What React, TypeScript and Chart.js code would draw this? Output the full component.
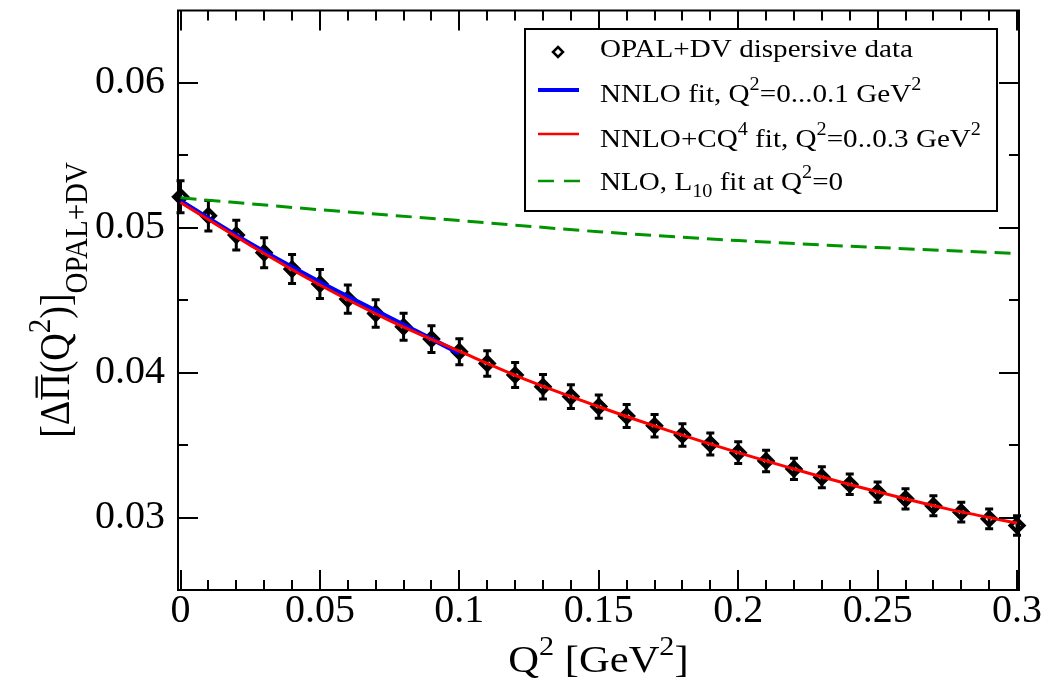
import React, { useEffect, useRef } from "react";
import { Chart, registerables } from "chart.js";

Chart.register(...registerables);

// ---------- data ----------
const q2 = [
  0, 0.01, 0.02, 0.03, 0.04, 0.05, 0.06, 0.07, 0.08, 0.09, 0.1, 0.11, 0.12, 0.13, 0.14, 0.15,
  0.16, 0.17, 0.18, 0.19, 0.2, 0.21, 0.22, 0.23, 0.24, 0.25, 0.26, 0.27, 0.28, 0.29, 0.3,
];
const dataValues = [
  0.05214, 0.05083, 0.0495, 0.04828, 0.04715, 0.04612, 0.04508, 0.04409, 0.04317, 0.04232,
  0.04145, 0.04064, 0.03984, 0.03903, 0.03835, 0.03766, 0.03701, 0.03634, 0.0357, 0.03508,
  0.03448, 0.03391, 0.03336, 0.03278, 0.0323, 0.03175, 0.03129, 0.03081, 0.03037, 0.02991,
  0.02945,
];
const dataErrors = [
  0.0011, 0.00105, 0.00103, 0.00103, 0.001, 0.001, 0.00097, 0.00095, 0.00093, 0.00092,
  0.0009, 0.00088, 0.00086, 0.00084, 0.00082, 0.0008, 0.00079, 0.00078, 0.00077, 0.00076,
  0.00075, 0.00074, 0.00073, 0.00072, 0.00071, 0.0007, 0.0007, 0.00069, 0.00068, 0.00068,
  0.00067,
];
const nnloX = [0, 0.025, 0.05, 0.075, 0.1];
const nnloY = [0.05185, 0.0489, 0.04625, 0.0438, 0.04135];
const cq4X = [0, 0.025, 0.05, 0.075, 0.1, 0.125, 0.15, 0.175, 0.2, 0.225, 0.25, 0.275, 0.3];
const cq4Y = [
  0.05175, 0.0488, 0.04605, 0.0436, 0.04148, 0.03943, 0.03765, 0.036, 0.03448, 0.03308,
  0.03178, 0.0306, 0.02962,
];
const nloX = [0, 0.05, 0.1, 0.15, 0.2, 0.25, 0.3];
const nloY = [0.05207, 0.05125, 0.0505, 0.04973, 0.04912, 0.04864, 0.04823];

const xTickValues = [0, 0.05, 0.1, 0.15, 0.2, 0.25, 0.3];
const xTickLabels = ["0", "0.05", "0.1", "0.15", "0.2", "0.25", "0.3"];
const yTickValues = [0.03, 0.04, 0.05, 0.06];
const yTickLabels = ["0.03", "0.04", "0.05", "0.06"];

const legendLabels = [
  "OPAL+DV dispersive data",
  "NNLO fit, Q²=0...0.1 GeV²",
  "NNLO+CQ⁴ fit, Q²=0..0.3 GeV²",
  "NLO, L₁₀ fit at Q²=0",
];

const FONT = '"Liberation Serif", "Times New Roman", Times, serif';
const POINTS_INDEX = 3;
const STRETCH = 1.12;

type Seg = { t: string; m?: "sup" | "sub"; bar?: boolean };

function segWidth(ctx: CanvasRenderingContext2D, s: Seg, size: number, subSize: number) {
  ctx.font = `${s.m ? subSize : size}px ${FONT}`;
  return ctx.measureText(s.t).width;
}

function drawRich(
  ctx: CanvasRenderingContext2D,
  segs: Seg[],
  size: number,
  subSize: number,
  supRaise: number,
  subDrop: number
) {
  let cx = 0;
  ctx.textAlign = "left";
  ctx.textBaseline = "alphabetic";
  for (const s of segs) {
    const w = segWidth(ctx, s, size, subSize);
    const dy = s.m === "sup" ? -supRaise : s.m === "sub" ? subDrop : 0;
    ctx.fillText(s.t, cx, dy);
    if (s.bar) {
      ctx.save();
      ctx.lineWidth = 2;
      ctx.beginPath();
      ctx.moveTo(cx + 3, -size * 0.76);
      ctx.lineTo(cx + w - 3, -size * 0.76);
      ctx.stroke();
      ctx.restore();
    }
    cx += w;
  }
  return cx;
}

function richWidth(ctx: CanvasRenderingContext2D, segs: Seg[], size: number, subSize: number) {
  return segs.reduce((a, s) => a + segWidth(ctx, s, size, subSize), 0);
}

const decorPlugin = {
  id: "decor",
  afterDatasetDraw(chart: any, args: any) {
    if (args.index !== POINTS_INDEX) return;
    const { ctx } = chart;
    const xs = chart.scales.x;
    const ys = chart.scales.y;
    ctx.save();
    ctx.strokeStyle = "#000";
    ctx.lineWidth = 3;
    q2.forEach((q, i) => {
      const px = xs.getPixelForValue(q);
      const y1 = ys.getPixelForValue(dataValues[i] + dataErrors[i]);
      const y2 = ys.getPixelForValue(dataValues[i] - dataErrors[i]);
      ctx.beginPath();
      ctx.moveTo(px, y1);
      ctx.lineTo(px, y2);
      ctx.moveTo(px - 4, y1);
      ctx.lineTo(px + 4, y1);
      ctx.moveTo(px - 4, y2);
      ctx.lineTo(px + 4, y2);
      ctx.stroke();
    });
    ctx.restore();
  },
  afterDraw(chart: any) {
    const { ctx, chartArea: a } = chart;
    const xs = chart.scales.x;
    const ys = chart.scales.y;
    ctx.save();
    ctx.strokeStyle = "#000";
    ctx.fillStyle = "#000";
    ctx.lineWidth = 2;
    ctx.strokeRect(a.left, a.top, a.right - a.left, a.bottom - a.top);
    ctx.beginPath();
    for (let k = 0; k <= 30; k++) {
      const v = k * 0.01;
      const len = k % 5 === 0 ? 20 : 10;
      const px = Math.round(xs.getPixelForValue(v));
      ctx.moveTo(px, a.bottom);
      ctx.lineTo(px, a.bottom - len);
      ctx.moveTo(px, a.top);
      ctx.lineTo(px, a.top + len);
    }
    for (let k = 0; k <= 8; k++) {
      const v = 0.025 + k * 0.005;
      const major = k % 2 === 1;
      const len = major ? 20 : 10;
      const py = Math.round(ys.getPixelForValue(v));
      if (py <= a.top + 1 || py >= a.bottom - 1) continue;
      ctx.moveTo(a.left, py);
      ctx.lineTo(a.left + len, py);
      ctx.moveTo(a.right, py);
      ctx.lineTo(a.right - len, py);
    }
    ctx.stroke();

    // x title
    const xSegs: Seg[] = [{ t: "Q" }, { t: "2", m: "sup" }, { t: " [GeV" }, { t: "2", m: "sup" }, { t: "]" }];
    const xsz = 38;
    const xw = richWidth(ctx, xSegs, xsz, 27) * STRETCH;
    ctx.save();
    ctx.translate((a.left + a.right) / 2 - xw / 2, 672);
    ctx.scale(STRETCH, 1);
    drawRich(ctx, xSegs, xsz, 27, 17, 10);
    ctx.restore();

    // y title
    const ySegs: Seg[] = [
      { t: "[Δ" },
      { t: "Π", bar: true },
      { t: "(Q" },
      { t: "2", m: "sup" },
      { t: ")]" },
      { t: "OPAL+DV", m: "sub" },
    ];
    const ysz = 38;
    const yw = richWidth(ctx, ySegs, ysz, 29);
    ctx.save();
    ctx.translate(69, 300 + yw / 2);
    ctx.rotate(-Math.PI / 2);
    ctx.scale(1, STRETCH);
    drawRich(ctx, ySegs, ysz, 29, 17, 16);
    ctx.restore();

    // legend
    const L = 525, T = 29, R = 997, B = 211;
    ctx.fillStyle = "#fff";
    ctx.fillRect(L, T, R - L, B - T);
    ctx.fillStyle = "#000";
    ctx.lineWidth = 2;
    ctx.strokeRect(L, T, R - L, B - T);

    ctx.lineWidth = 2.5;
    ctx.beginPath();
    ctx.moveTo(558, 47);
    ctx.lineTo(563, 52);
    ctx.lineTo(558, 57);
    ctx.lineTo(553, 52);
    ctx.closePath();
    ctx.stroke();

    ctx.strokeStyle = "#0000ff";
    ctx.lineWidth = 4;
    ctx.beginPath();
    ctx.moveTo(538, 90);
    ctx.lineTo(579, 90);
    ctx.stroke();

    ctx.strokeStyle = "#ff0000";
    ctx.lineWidth = 2.5;
    ctx.beginPath();
    ctx.moveTo(538, 134);
    ctx.lineTo(579, 134);
    ctx.stroke();

    ctx.strokeStyle = "#009400";
    ctx.lineWidth = 2.5;
    ctx.setLineDash([16, 10]);
    ctx.beginPath();
    ctx.moveTo(538, 181);
    ctx.lineTo(580, 181);
    ctx.stroke();
    ctx.setLineDash([]);
    ctx.strokeStyle = "#000";

    const lsz = 26, lsub = 18;
    const entries: { segs: Seg[]; y: number }[] = [
      { segs: [{ t: legendLabels[0] }], y: 57 },
      {
        segs: [{ t: "NNLO fit, Q" }, { t: "2", m: "sup" }, { t: "=0...0.1 GeV" }, { t: "2", m: "sup" }],
        y: 102,
      },
      {
        segs: [
          { t: "NNLO+CQ" },
          { t: "4", m: "sup" },
          { t: " fit, Q" },
          { t: "2", m: "sup" },
          { t: "=0..0.3 GeV" },
          { t: "2", m: "sup" },
        ],
        y: 147,
      },
      {
        segs: [{ t: "NLO, L" }, { t: "10", m: "sub" }, { t: " fit at Q" }, { t: "2", m: "sup" }, { t: "=0" }],
        y: 190,
      },
    ];
    for (const e of entries) {
      ctx.save();
      ctx.translate(600, e.y);
      ctx.scale(STRETCH, 1);
      drawRich(ctx, e.segs, lsz, lsub, 12, 7);
      ctx.restore();
    }
    ctx.restore();
  },
};

export default function App() {
  const ref = useRef<HTMLCanvasElement | null>(null);

  useEffect(() => {
    const canvas = ref.current;
    if (!canvas) return;
    const chart = new Chart(canvas, {
      type: "line",
      data: {
        datasets: [
          {
            label: legendLabels[2],
            data: cq4X.map((x, i) => ({ x, y: cq4Y[i] })),
            borderColor: "#ff0000",
            borderWidth: 3,
            pointRadius: 0,
            cubicInterpolationMode: "monotone",
            fill: false,
          },
          {
            label: legendLabels[1],
            data: nnloX.map((x, i) => ({ x, y: nnloY[i] })),
            borderColor: "#0000ff",
            borderWidth: 4.5,
            pointRadius: 0,
            cubicInterpolationMode: "monotone",
            fill: false,
          },
          {
            label: legendLabels[3],
            data: nloX.map((x, i) => ({ x, y: nloY[i] })),
            borderColor: "#009400",
            borderWidth: 3,
            borderDash: [16, 8],
            pointRadius: 0,
            cubicInterpolationMode: "monotone",
            fill: false,
          },
          {
            label: legendLabels[0],
            data: q2.map((x, i) => ({ x, y: dataValues[i] })),
            showLine: false,
            pointStyle: "rectRot",
            pointRadius: 6.5,
            pointBorderWidth: 4,
            pointBackgroundColor: "#ffffff",
            pointBorderColor: "#000000",
            borderColor: "#000000",
            backgroundColor: "#ffffff",
            clip: false,
          } as any,
        ],
      },
      options: {
        animation: false,
        responsive: false,
        maintainAspectRatio: false,
        devicePixelRatio: 1,
        layout: { padding: { left: 0, right: 31, top: 9, bottom: 0 } },
        plugins: {
          legend: { display: false },
          tooltip: { enabled: false },
        },
        scales: {
          x: {
            type: "linear",
            min: -0.0009,
            max: 0.3007,
            grid: { display: false, drawTicks: false },
            border: { display: false },
            afterBuildTicks: (s: any) => {
              s.ticks = xTickValues.map((value) => ({ value }));
            },
            ticks: {
              maxRotation: 0,
              autoSkip: false,
              padding: -3,
              color: "#000",
              font: { family: FONT, size: 40 },
              callback: (v: any) => xTickLabels[xTickValues.indexOf(Number(v))] ?? String(v),
            },
            afterFit: (s: any) => {
              s.height = 103;
              s.paddingLeft = 0;
              s.paddingRight = 0;
            },
          },
          y: {
            type: "linear",
            min: 0.025,
            max: 0.065,
            grid: { display: false, drawTicks: false },
            border: { display: false },
            afterBuildTicks: (s: any) => {
              s.ticks = yTickValues.map((value) => ({ value }));
            },
            ticks: {
              autoSkip: false,
              padding: 13,
              color: "#000",
              font: { family: FONT, size: 40 },
              callback: (v: any) => yTickLabels[yTickValues.indexOf(Number(v))] ?? String(v),
            },
            afterFit: (s: any) => {
              s.width = 178;
              s.paddingTop = 0;
              s.paddingBottom = 0;
            },
          },
        },
      },
      plugins: [decorPlugin],
    });
    return () => chart.destroy();
  }, []);

  return (
    <div style={{ position: "absolute", left: 0, top: 0, width: 1050, height: 693, background: "#fff" }}>
      <canvas ref={ref} width={1050} height={693} style={{ display: "block" }} />
    </div>
  );
}
